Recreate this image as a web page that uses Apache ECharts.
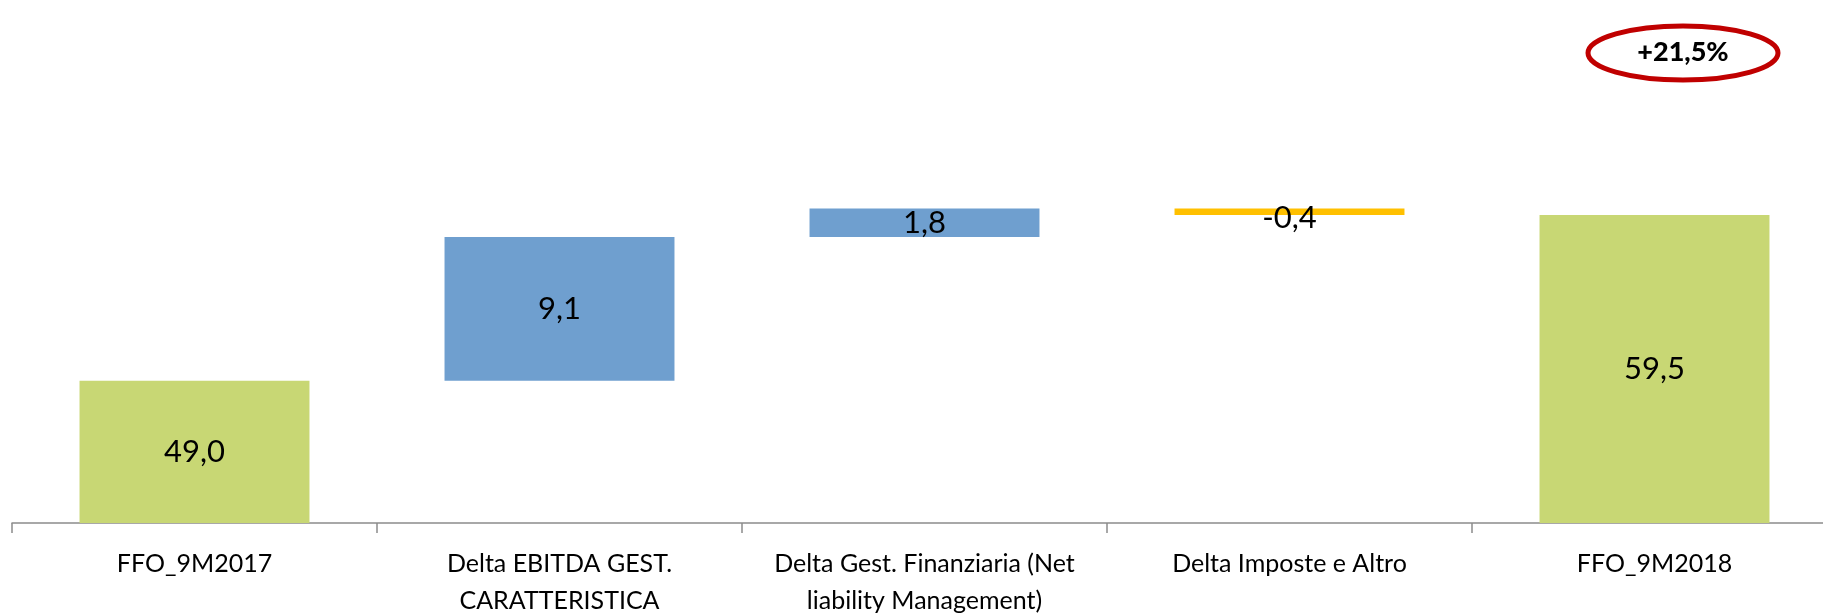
<!DOCTYPE html>
<html>
<head>
<meta charset="utf-8">
<style>
  html, body { margin: 0; padding: 0; background: #fff; }
  #chart { width: 1823px; height: 615px; }
</style>
<script src="https://cdn.jsdelivr.net/npm/echarts@6/dist/echarts.min.js"></script>
</head>
<body>
<div id="chart"></div>
<script>
const categories = [
  "FFO_9M2017",
  "Delta EBITDA GEST.\nCARATTERISTICA",
  "Delta Gest. Finanziaria (Net\nliability Management)",
  "Delta Imposte e Altro",
  "FFO_9M2018"
];
const values = [49.0, 9.1, 1.8, -0.4, 59.5];
const isTotal = [true, false, false, false, true];
const growthLabel = "+21,5%";

const colors = {
  total: "#c8d774",
  up: "#6f9fcf",
  down: "#ffc000"
};

// waterfall: transparent base + visible part
const baseData = [];
const barData = [];
let running = 0;
values.forEach((v, i) => {
  if (isTotal[i]) {
    baseData.push(0);
    barData.push({ value: v, itemStyle: { color: colors.total } });
    running = v;
  } else if (v >= 0) {
    baseData.push(running);
    barData.push({ value: v, itemStyle: { color: colors.up } });
    running += v;
  } else {
    running += v;
    baseData.push(running);
    barData.push({
      value: -v,
      itemStyle: { color: colors.down },
      label: { offset: [0, 6] }
    });
  }
});

function fmt(v) {
  return v.toFixed(1).replace(".", ",");
}

const chart = echarts.init(document.getElementById("chart"));
chart.setOption({
  animation: false,
  textStyle: { fontFamily: "Lato" },
  grid: { left: 12, top: 49, right: -14, bottom: 92, containLabel: false, outerBoundsMode: "none" },
  xAxis: {
    type: "category",
    data: categories,
    axisLine: { lineStyle: { color: "#8c8c8c", width: 1.5 } },
    axisTick: { show: true, length: 10, interval: 0, lineStyle: { color: "#8c8c8c", width: 1.5 } },
    axisLabel: {
      color: "#000",
      fontSize: 25,
      lineHeight: 37,
      margin: 22,
      interval: 0
    }
  },
  yAxis: {
    type: "value",
    min: 40,
    max: 70,
    show: false,
    splitLine: { show: false }
  },
  series: [
    {
      type: "bar",
      stack: "wf",
      data: baseData,
      itemStyle: { color: "transparent" },
      barWidth: "63%",
      silent: true
    },
    {
      type: "bar",
      stack: "wf",
      data: barData,
      barWidth: "63%",
      label: {
        show: true,
        position: "inside",
        color: "#000",
        fontSize: 31,
        formatter: p => fmt(values[p.dataIndex])
      }
    }
  ],
  graphic: [
    {
      type: "ellipse",
      shape: { cx: 1683, cy: 53, rx: 95, ry: 27 },
      style: { fill: "none", stroke: "#c00000", lineWidth: 5 }
    },
    {
      type: "text",
      x: 1683,
      y: 52,
      style: {
        text: growthLabel,
        fill: "#000",
        font: "900 27px Lato",
        align: "center",
        verticalAlign: "middle"
      }
    }
  ]
});
</script>
</body>
</html>
